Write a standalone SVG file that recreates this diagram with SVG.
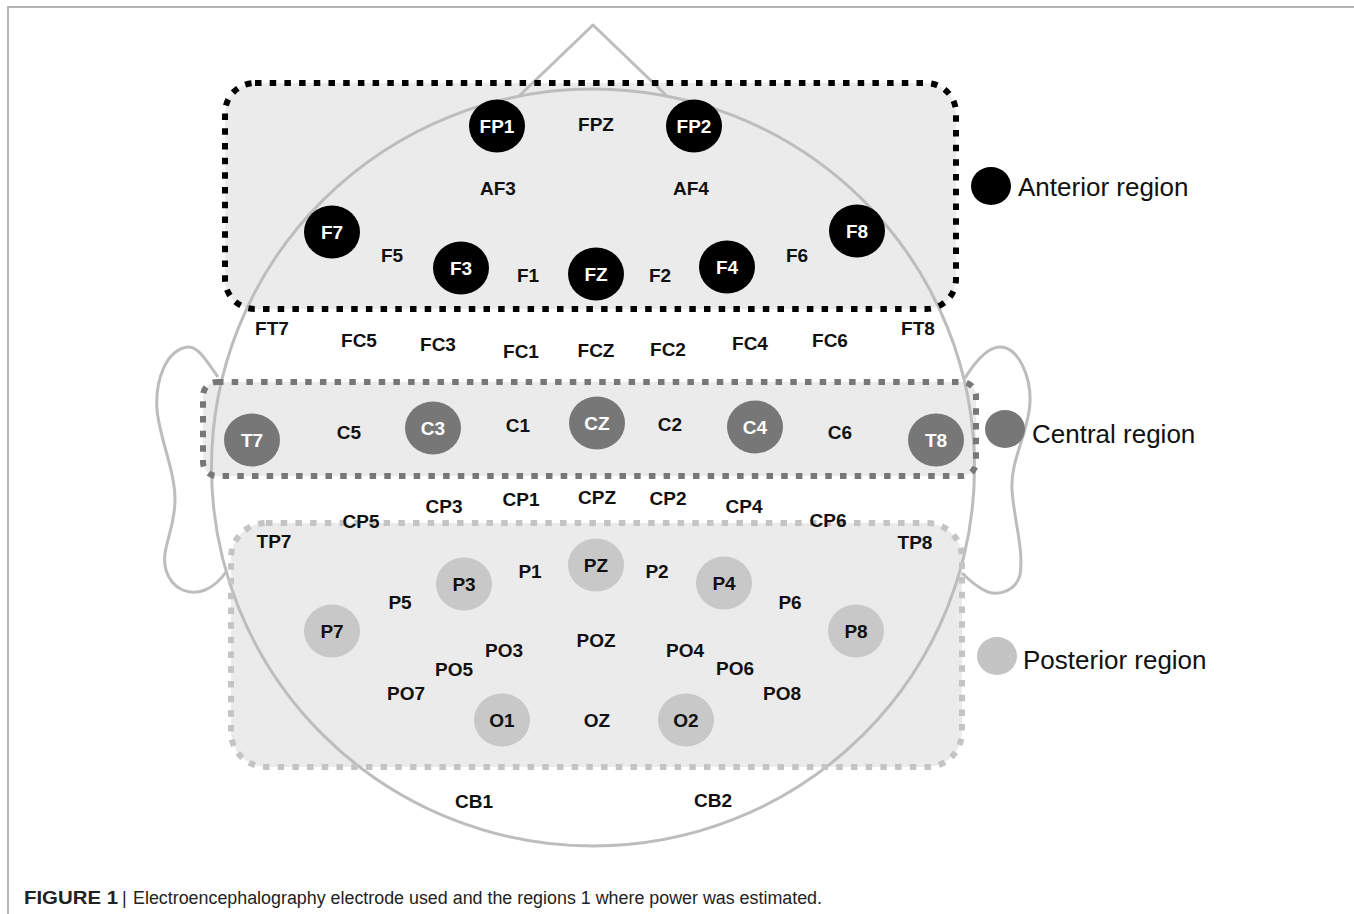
<svg xmlns="http://www.w3.org/2000/svg" width="1354" height="914" viewBox="0 0 1354 914">
<style>
.lbl{font-family:"Liberation Sans",Arial,sans-serif;font-weight:bold;font-size:19px;text-anchor:middle;fill:#111}
.w{fill:#fff}
.ea{fill:#000}
.ec{fill:#777}
.ep{fill:#c8c8c8}
.head{fill:none;stroke:#bdbdbd;stroke-width:3;stroke-linejoin:round}
.bfill{fill:#ebebeb;stroke:none}
.box{fill:none;stroke-width:6;stroke-dasharray:6.5 8.2}
.leg{font-family:"Liberation Sans",Arial,sans-serif;font-size:26px;fill:#111}
.cap{font-family:"Liberation Sans Narrow","Liberation Sans",Arial,sans-serif;font-size:18px;fill:#222}
</style>
<rect width="1354" height="914" fill="#fff"/>
<g id="frame" fill="none" stroke="#b5b5b5" stroke-width="2">
<path d="M8 914 V7 H1354"/>
</g>
<g id="region-fills">
<rect class="bfill" x="225" y="83" width="731" height="226" rx="30"/>
<rect class="bfill" x="203" y="382" width="773" height="94" rx="14"/>
<rect class="bfill" x="231" y="523" width="731" height="244" rx="35"/>
</g>
<g id="head">
<ellipse class="head" cx="593" cy="467.5" rx="381.5" ry="378.5"/>
<polyline class="head" points="518,97 593,25 668,97"/>
<path class="head" d="M218 377 C205 358 197 346 188 347 C165 350 155 382 157 410 C160 440 175 470 175 500 C175 530 160 550 166 570 C172 590 190 596 205 590 C215 586 221 579 226 572"/>
<path class="head" d="M965 378 C975 362 988 347 1000 347 C1020 347 1031 380 1030 402 C1029 432 1010 460 1012 490 C1014 520 1024 550 1020 575 C1016 590 1000 596 988 592 C978 588 969 580 962 573"/>
</g>
<g id="region-borders">
<rect id="anterior-box" class="box" x="225" y="83" width="731" height="226" rx="30" stroke="#000"/>
<rect id="central-box" class="box" x="203" y="382" width="773" height="94" rx="14" stroke="#777"/>
<rect id="posterior-box" class="box" x="231" y="523" width="731" height="244" rx="35" stroke="#c4c4c4"/>
</g>
<g id="connectors"></g>
<!-- anterior electrodes -->
<g id="FP1"><ellipse class="ea" cx="497" cy="126" rx="28" ry="26.5"/><text class="lbl w" x="497" y="133">FP1</text></g>
<g id="FPZ"><text class="lbl" x="596" y="131">FPZ</text></g>
<g id="FP2"><ellipse class="ea" cx="694" cy="126" rx="28" ry="26.5"/><text class="lbl w" x="694" y="133">FP2</text></g>
<g id="AF3"><text class="lbl" x="498" y="195">AF3</text></g>
<g id="AF4"><text class="lbl" x="691" y="195">AF4</text></g>
<g id="F7"><ellipse class="ea" cx="332" cy="232" rx="28" ry="26.5"/><text class="lbl w" x="332" y="239">F7</text></g>
<g id="F5"><text class="lbl" x="392" y="261.5">F5</text></g>
<g id="F3"><ellipse class="ea" cx="461" cy="268" rx="28" ry="26.5"/><text class="lbl w" x="461" y="275">F3</text></g>
<g id="F1"><text class="lbl" x="528" y="282">F1</text></g>
<g id="FZ"><ellipse class="ea" cx="596" cy="274" rx="28" ry="26.5"/><text class="lbl w" x="596" y="281">FZ</text></g>
<g id="F2"><text class="lbl" x="660" y="282">F2</text></g>
<g id="F4"><ellipse class="ea" cx="727" cy="267" rx="28" ry="26.5"/><text class="lbl w" x="727" y="274">F4</text></g>
<g id="F6"><text class="lbl" x="797" y="261.5">F6</text></g>
<g id="F8"><ellipse class="ea" cx="857" cy="231" rx="28" ry="26.5"/><text class="lbl w" x="857" y="238">F8</text></g>
<!-- fronto-central row -->
<g id="FT7"><text class="lbl" x="272" y="335">FT7</text></g>
<g id="FC5"><text class="lbl" x="359" y="347">FC5</text></g>
<g id="FC3"><text class="lbl" x="438" y="351">FC3</text></g>
<g id="FC1"><text class="lbl" x="521" y="357.5">FC1</text></g>
<g id="FCZ"><text class="lbl" x="596" y="357">FCZ</text></g>
<g id="FC2"><text class="lbl" x="668" y="356">FC2</text></g>
<g id="FC4"><text class="lbl" x="750" y="350">FC4</text></g>
<g id="FC6"><text class="lbl" x="830" y="347">FC6</text></g>
<g id="FT8"><text class="lbl" x="918" y="335">FT8</text></g>
<!-- central electrodes -->
<g id="T7"><ellipse class="ec" cx="252" cy="440" rx="28" ry="26.5"/><text class="lbl w" x="252" y="447">T7</text></g>
<g id="C5"><text class="lbl" x="349" y="439">C5</text></g>
<g id="C3"><ellipse class="ec" cx="433" cy="428" rx="28" ry="26.5"/><text class="lbl w" x="433" y="435">C3</text></g>
<g id="C1"><text class="lbl" x="518" y="431.5">C1</text></g>
<g id="CZ"><ellipse class="ec" cx="597" cy="423" rx="28" ry="26.5"/><text class="lbl w" x="597" y="430">CZ</text></g>
<g id="C2"><text class="lbl" x="670" y="431">C2</text></g>
<g id="C4"><ellipse class="ec" cx="755" cy="427" rx="28" ry="26.5"/><text class="lbl w" x="755" y="434">C4</text></g>
<g id="C6"><text class="lbl" x="840" y="439">C6</text></g>
<g id="T8"><ellipse class="ec" cx="936" cy="440" rx="28" ry="26.5"/><text class="lbl w" x="936" y="447">T8</text></g>
<!-- centro-parietal row -->
<g id="CP5"><text class="lbl" x="361" y="527.5">CP5</text></g>
<g id="CP3"><text class="lbl" x="444" y="513">CP3</text></g>
<g id="CP1"><text class="lbl" x="521" y="505.5">CP1</text></g>
<g id="CPZ"><text class="lbl" x="597" y="503.5">CPZ</text></g>
<g id="CP2"><text class="lbl" x="668" y="505">CP2</text></g>
<g id="CP4"><text class="lbl" x="744" y="513">CP4</text></g>
<g id="CP6"><text class="lbl" x="828" y="527">CP6</text></g>
<g id="TP7"><text class="lbl" x="274" y="548">TP7</text></g>
<g id="TP8"><text class="lbl" x="915" y="548.5">TP8</text></g>
<!-- posterior electrodes -->
<g id="PZ"><ellipse class="ep" cx="596" cy="565" rx="28" ry="26.5"/><text class="lbl" x="596" y="572">PZ</text></g>
<g id="P1"><text class="lbl" x="530" y="577.5">P1</text></g>
<g id="P2"><text class="lbl" x="657" y="577.5">P2</text></g>
<g id="P3"><ellipse class="ep" cx="464" cy="584" rx="28" ry="26.5"/><text class="lbl" x="464" y="591">P3</text></g>
<g id="P4"><ellipse class="ep" cx="724" cy="583" rx="28" ry="26.5"/><text class="lbl" x="724" y="590">P4</text></g>
<g id="P5"><text class="lbl" x="400" y="609">P5</text></g>
<g id="P6"><text class="lbl" x="790" y="609">P6</text></g>
<g id="P7"><ellipse class="ep" cx="332" cy="631" rx="28" ry="26.5"/><text class="lbl" x="332" y="638">P7</text></g>
<g id="P8"><ellipse class="ep" cx="856" cy="631" rx="28" ry="26.5"/><text class="lbl" x="856" y="638">P8</text></g>
<g id="POZ"><text class="lbl" x="596" y="646.5">POZ</text></g>
<g id="PO3"><text class="lbl" x="504" y="657">PO3</text></g>
<g id="PO4"><text class="lbl" x="685" y="657">PO4</text></g>
<g id="PO5"><text class="lbl" x="454" y="676">PO5</text></g>
<g id="PO6"><text class="lbl" x="735" y="675">PO6</text></g>
<g id="PO7"><text class="lbl" x="406" y="700">PO7</text></g>
<g id="PO8"><text class="lbl" x="782" y="700">PO8</text></g>
<g id="O1"><ellipse class="ep" cx="502" cy="720" rx="28" ry="26.5"/><text class="lbl" x="502" y="727">O1</text></g>
<g id="OZ"><text class="lbl" x="597" y="727">OZ</text></g>
<g id="O2"><ellipse class="ep" cx="686" cy="720" rx="28" ry="26.5"/><text class="lbl" x="686" y="727">O2</text></g>
<g id="CB1"><text class="lbl" x="474" y="807.5">CB1</text></g>
<g id="CB2"><text class="lbl" x="713" y="807">CB2</text></g>
<!-- legend -->
<g id="legend-anterior"><ellipse cx="991" cy="186" rx="20" ry="19" fill="#000"/><text class="leg" x="1018" y="196">Anterior region</text></g>
<g id="legend-central"><ellipse cx="1005" cy="429" rx="20" ry="19" fill="#777"/><text class="leg" x="1032" y="443">Central region</text></g>
<g id="legend-posterior"><ellipse cx="997" cy="656" rx="20" ry="19" fill="#c4c4c4"/><text class="leg" x="1023" y="669">Posterior region</text></g>
<!-- caption -->
<g id="caption">
<text class="cap" x="24" y="904" font-weight="bold" textLength="94" lengthAdjust="spacingAndGlyphs">FIGURE 1</text>
<text class="cap" x="122" y="904">|</text>
<text class="cap" x="133" y="904" textLength="689" lengthAdjust="spacingAndGlyphs">Electroencephalography electrode used and the regions 1 where power was estimated.</text>
</g>
</svg>
